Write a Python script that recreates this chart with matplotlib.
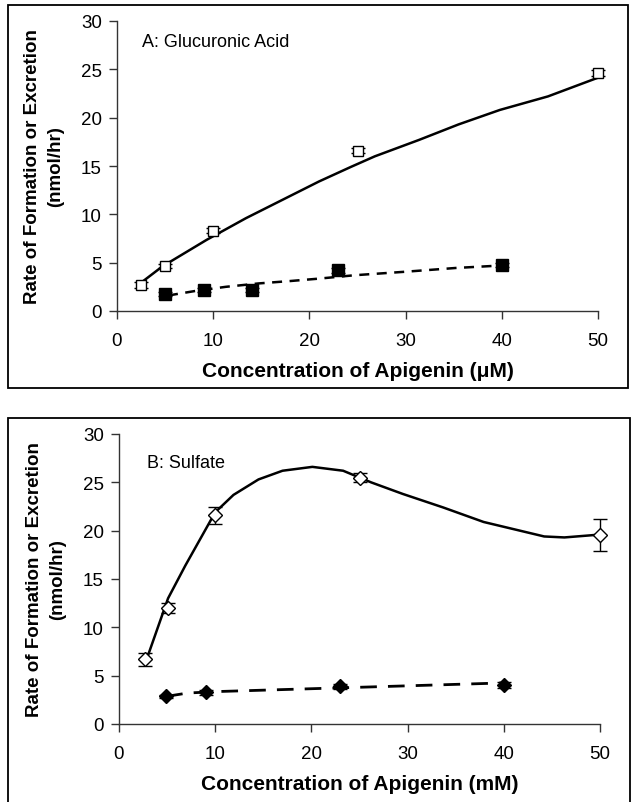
import numpy as np
import matplotlib
matplotlib.use("Agg")
import matplotlib.pyplot as plt
from matplotlib.patches import Rectangle

plt.rcParams['font.family'] = ['Liberation Sans', 'DejaVu Sans']

# Panel A: glucuronic acid
gluc_x = [2.5, 5, 10, 25, 50]
gluc_y = [2.65, 4.65, 8.3, 16.6, 24.6]
gluc_err = [0.3, 0.2, 0.25, 0.3, 0.3]
gluc_fit_x = [2.4, 4.7, 9.3, 13.4, 17.2, 21.0, 24.3, 26.8, 31.4, 35.5, 39.8, 44.8, 49.9]
gluc_fit_y = [2.85, 4.6, 7.35, 9.6, 11.5, 13.4, 14.9, 16.0, 17.7, 19.3, 20.8, 22.2, 24.1]

glucex_x = [5, 9, 14, 23, 40]
glucex_y = [1.75, 2.15, 2.2, 4.2, 4.75]
glucex_err = [0.2, 0.2, 0.2, 0.25, 0.2]
glucex_fit_x = [5.3, 8.0, 11.3, 14.7, 18.0, 21.0, 24.7, 29.8, 35.2, 39.8]
glucex_fit_y = [1.6, 2.05, 2.5, 2.85, 3.1, 3.35, 3.7, 4.05, 4.45, 4.7]

# Panel B: sulfate
sulf_x = [2.7, 5.1, 10, 25, 50]
sulf_y = [6.7, 12.0, 21.6, 25.5, 19.55]
sulf_err = [0.65, 0.5, 0.9, 0.5, 1.65]
sulf_fit_x = [2.7, 5.1, 6.9, 10.0, 11.9, 14.5, 17.0, 20.1, 23.3, 26.2, 29.5, 33.7,
              37.9, 42.1, 44.2, 46.3, 48.8, 50.0]
sulf_fit_y = [6.2, 13.0, 16.4, 21.9, 23.7, 25.3, 26.2, 26.6, 26.2, 25.0, 23.8, 22.4,
              20.9, 19.9, 19.4, 19.3, 19.5, 19.6]

sulfex_x = [4.9, 9, 23, 40]
sulfex_y = [2.85, 3.3, 3.9, 4.05]
sulfex_err = [0.2, 0.25, 0.25, 0.3]
sulfex_fit_x = [4.9, 7.1, 10, 15, 20, 25, 30, 35, 40]
sulfex_fit_y = [2.85, 3.2, 3.35, 3.5, 3.65, 3.8, 3.95, 4.1, 4.25]

W, H = 632, 803
fig = plt.figure(figsize=(W / 100, H / 100), dpi=100)

# panel frames
fig.patches.append(Rectangle((8 / W, 1 - 389 / H), 620 / W, 383 / H, transform=fig.transFigure,
                             fill=False, lw=1.3, ec='black'))
fig.patches.append(Rectangle((8 / W, -0.05), 622 / W, 0.05 + 1 - 419 / H, transform=fig.transFigure,
                             fill=False, lw=1.3, ec='black'))


def make_axes(x0, x1, ytop, ybot):
    ax = fig.add_axes([x0 / W, 1 - ybot / H, (x1 - x0) / W, (ybot - ytop) / H])
    ax.set_xlim(0, 50)
    ax.set_ylim(0, 30)
    ax.set_xticks([0, 10, 20, 30, 40, 50])
    ax.set_yticks([0, 5, 10, 15, 20, 25, 30])
    for s in ['top', 'right']:
        ax.spines[s].set_visible(False)
    for s in ['left', 'bottom']:
        ax.spines[s].set_color('#333333')
        ax.spines[s].set_linewidth(1.0)
    ax.tick_params(direction='out', length=6, width=1, color='#333333',
                   labelsize=13.5, pad=5)
    ax.tick_params(axis='x', pad=9)
    ax.set_ylabel('Rate of Formation or Excretion\n(nmol/hr)', fontsize=13.5,
                  fontweight='bold', linespacing=1.45, labelpad=12)
    ax.patch.set_alpha(0)
    return ax


def points(ax, x, y, err, **kw):
    cont = ax.errorbar(x, y, yerr=err, ecolor='black', elinewidth=1, capsize=5, **kw)
    for art in cont.get_children():
        art.set_clip_on(False)


axA = make_axes(117, 598, 22, 312)
axA.plot(gluc_fit_x, gluc_fit_y, '-', color='black', lw=1.8)
axA.plot(glucex_fit_x, glucex_fit_y, color='black', lw=1.8, ls=(0, (4, 3)))
points(axA, gluc_x, gluc_y, gluc_err, fmt='s', mfc='white', mec='black', ms=7, mew=1)
points(axA, glucex_x, glucex_y, glucex_err, fmt='s', mfc='black', mec='black', ms=9)
axA.text(2.6, 27.9, 'A: Glucuronic Acid', fontsize=13, va='center', ha='left')
axA.set_xlabel('Concentration of Apigenin (\u03bcM)', fontsize=15, fontweight='bold',
               labelpad=9)

axB = make_axes(119, 600, 435, 725)
axB.plot(sulf_fit_x, sulf_fit_y, '-', color='black', lw=1.8)
axB.plot(sulfex_fit_x, sulfex_fit_y, color='black', lw=2.0, ls=(0, (6, 4)))
points(axB, sulf_x, sulf_y, sulf_err, fmt='D', mfc='white', mec='black', ms=7, mew=1)
points(axB, sulfex_x, sulfex_y, sulfex_err, fmt='D', mfc='black', mec='black', ms=7)
axB.text(2.9, 27.1, 'B: Sulfate', fontsize=13, va='center', ha='left')
axB.set_xlabel('Concentration of Apigenin (mM)', fontsize=15, fontweight='bold',
               labelpad=9)

fig.savefig('out.png', dpi=100)
